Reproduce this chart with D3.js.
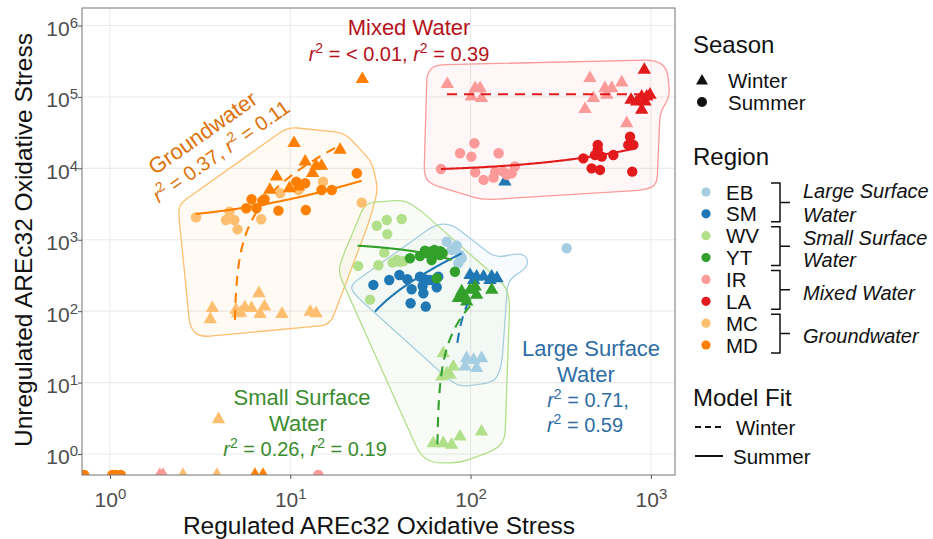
<!DOCTYPE html>
<html>
<head>
<meta charset="utf-8">
<title>AREc32 oxidative stress</title>
<style>
    body { margin: 0; background: #fff; }
    text { font-family: "Liberation Sans", Arial, sans-serif; }
</style>
</head>
<body>
<svg width="933" height="539"></svg>
<script src="https://d3js.org/d3.v7.min.js"></script>
<script>

    // [regulated, unregulated]; 0 = not detected, sits on the bottom edge
    var ebSummer = [[73.7, 940], [83.7, 830], [78.5, 720], [87.4, 612], [85.5, 469], [89.3, 551], [341, 760]];
    var ebWinter = [[95.1, 21.9], [104, 20.7], [115, 21.9], [93.1, 16.7], [108, 15.9]];
    var smSummer = [[28.9, 233], [35.4, 273], [40.3, 321], [44.6, 280], [47.1, 203], [54.7, 178], [55.8, 280], [59.5, 273],
        [64.9, 216], [66.2, 304], [54.2, 225], [46.5, 129], [56.4, 116], [52.4, 304]];
    var smWinter = [[99.3, 321], [108, 304], [118, 304], [131, 304], [140, 289], [104, 273], [128, 273], [155, 6510]];
    var wvSummer = [[30.2, 1570], [34.3, 1890], [41.5, 1950], [34.5, 1200], [33.2, 660], [23.8, 430], [30.8, 440],
        [37.0, 480], [39.0, 520], [40.6, 490], [42.4, 505], [27.7, 145]];
    var wvWinter = [[70.6, 25.7], [80.2, 16.7], [73.7, 13.5], [69.2, 12.1], [76.9, 12.8], [62.1, 1.41], [70.6, 1.41],
        [78.5, 1.34], [87.4, 1.75], [115, 2.05]];
    var ytSummer = [[46.1, 551], [52.4, 593], [55.8, 703], [59.5, 681], [62.1, 612], [64.9, 681], [67.6, 612], [60.8, 521],
        [81.9, 357], [64.9, 289], [57, 650], [63, 720], [68, 690], [70, 650]];
    var ytWinter = [[89.3, 188], [93.1, 160], [99.3, 198], [106, 220], [108, 169], [95.1, 136], [131, 198], [85.5, 152]];
    var irSummer = [[68.5, 9810], [87.4, 16300], [101, 14600], [105, 22500], [106, 8810], [118, 6890], [137, 8990],
        [143, 16300], [134, 7410], [152, 8990], [169, 8540], [176, 10600], [159, 8090], [14.3, 0]];
    var irWinter = [[74.3, 150700], [101, 101000], [113, 132000], [115, 95900], [459, 183000], [431, 67300], [480, 95900],
        [556, 132000], [569, 107000], [606, 132000], [689, 159000], [734, 42800], [106, 132000], [1.89, 0], [1.97, 0]];
    var laSummer = [[422, 13800], [469, 10000], [490, 15400], [507, 21300], [522, 9500], [534, 14600], [619, 15400],
        [749, 21300], [766, 27800], [799, 21300], [788, 8990], [507, 18100]];
    var laWinter = [[919, 239000], [776, 90800], [889, 101000], [948, 101000], [988, 107000], [889, 65800], [834, 85900], [927, 85900]];
    var mcSummer = [[3.0, 2070], [4.6, 2480], [4.4, 1890], [4.9, 1890], [5.1, 1400], [6.9, 1940], [8.8, 4480], [11.1, 4980],
        [15.2, 6510], [24.9, 3310]];
    var mcWinter = [[3.7, 110], [3.6, 77], [5.0, 104], [5.3, 95], [5.6, 113], [6.1, 110], [6.7, 178], [7.2, 116], [6.8, 91],
        [9.0, 91], [12.9, 98], [13.9, 93], [5.1, 93], [4.0, 3.06], [2.54, 0], [3.92, 0]];
    var mdSummer = [[5.7, 2760], [6.1, 3690], [6.5, 2760], [7.0, 3490], [7.2, 3690], [8.6, 2560], [10.8, 6510], [12.1, 6180],
        [12.2, 2610], [14.9, 4980], [17.0, 4980], [23.4, 8540], [0.72, 0], [1.03, 0], [1.08, 0], [1.15, 0]];
    var mdWinter = [[10.5, 22500], [18.9, 18100], [12.1, 12400], [13.9, 10800], [14.9, 10800], [13.3, 8540], [8.4, 7650],
        [7.7, 4980], [11.1, 5540], [9.9, 5260], [25.1, 177000], [6.37, 0], [7.06, 0]];

    var regions = ["EB", "SM", "WV", "YT", "IR", "LA", "MC", "MD"];
    var regionColors = ["#A6CEE3", "#1F78B4", "#B2DF8A", "#33A02C", "#FB9A99", "#E31A1C", "#FDBF6F", "#FF7F00"];
    var summerSets = [ebSummer, smSummer, wvSummer, ytSummer, irSummer, laSummer, mcSummer, mdSummer];
    var winterSets = [ebWinter, smWinter, wvWinter, ytWinter, irWinter, laWinter, mcWinter, mdWinter];

    // water groups: hull outlines and linear model fits (y = a + b*x)
    var groups = ["Groundwater", "Large Surface Water", "Mixed Water", "Small Surface Water"];
    var groupLight = ["#FDBF6F", "#A6CEE3", "#FB9A99", "#B2DF8A"];
    var groupDark = ["#FF7F00", "#1F78B4", "#E31A1C", "#33A02C"];
    var hullGround = [[2.38, 3070], [9.71, 38000], [20.1, 31300], [28.4, 12300], [30.7, 4980], [27.0, 1610], [16.6, 64],
        [3.16, 43.5], [2.78, 58.2]];
    var hullLarge = [[21.4, 230], [64.3, 1660], [78.8, 1660], [137, 556], [188, 653], [208, 556], [205, 403], [161, 273],
        [149, 17.6], [137, 10.2], [87.4, 8.68], [74, 11.6], [22.8, 169]];
    var hullMixed = [[57.3, 224000], [64.3, 281000], [1054, 330000], [1228, 255000], [1276, 100000], [1123, 61700],
        [1081, 5860], [927, 4980], [117, 3610], [59.5, 6050], [55.2, 8090]];
    var hullSmall = [[19.4, 556], [26.0, 3280], [43.3, 3610], [52.4, 2610], [155, 233], [165, 144], [155, 1.57], [137, 1.14],
        [87.4, 0.75], [61.8, 0.75], [52.4, 0.97], [18.4, 354]];
    var hulls = [hullGround, hullLarge, hullMixed, hullSmall];

    // [group index, winter?, intercept, slope, x from, x to]
    var fits = [
        [0, false, 1691, 202, 3.0, 24.9],
        [0, true, -7349, 1506, 4.93, 17.7],
        [1, false, -172, 9.17, 29.5, 89.3],
        [1, true, -623, 7.8, 84.5, 96],
        [2, false, 8964, 12.2, 68.5, 800],
        [2, true, 109000, 0, 74, 988],
        [3, false, 958.7, -5.58, 23.6, 78.4],
        [3, true, -224.6, 3.45, 65.5, 99.3]
    ];

    var xTicks = [1, 10, 100, 1000];
    var yTicks = [1, 10, 100, 1000, 10000, 100000, 1000000];

    var svg = d3.select("svg"),
        pLeft = 82, pRight = 675, pTop = 8, pBottom = 475;

    var x = d3.scaleLog().domain([0.7, 1360]).range([pLeft, pRight]);
    var y = d3.scaleLog().domain([0.508, 1.76e6]).range([pBottom, pTop]);
    var yPos = function (v) { return v > 0 ? y(v) : pBottom; };

    svg.append("clipPath").attr("id", "panel")
        .append("rect").attr("x", pLeft).attr("y", pTop).attr("width", pRight - pLeft).attr("height", pBottom - pTop);

    // grid
    svg.append("g").selectAll("line").data(xTicks).enter().append("line")
        .attr("x1", function (d) { return x(d); }).attr("x2", function (d) { return x(d); })
        .attr("y1", pTop).attr("y2", pBottom)
        .attr("stroke", "#EBEBEB").attr("stroke-width", 1.1);
    svg.append("g").selectAll("line").data(yTicks).enter().append("line")
        .attr("y1", function (d) { return y(d); }).attr("y2", function (d) { return y(d); })
        .attr("x1", pLeft).attr("x2", pRight)
        .attr("stroke", "#EBEBEB").attr("stroke-width", 1.1);

    var plot = svg.append("g").attr("clip-path", "url(#panel)");

    // rounded hull outline
    function roundedHull(pts, r) {
        var p = d3.path(), n = pts.length;
        for (var i = 0; i < n; i++) {
            var a = pts[(i - 1 + n) % n], b = pts[i], c = pts[(i + 1) % n];
            var l1 = Math.hypot(a[0] - b[0], a[1] - b[1]), l2 = Math.hypot(c[0] - b[0], c[1] - b[1]);
            var k1 = Math.min(r, l1 / 2) / l1, k2 = Math.min(r, l2 / 2) / l2;
            var s = [b[0] + (a[0] - b[0]) * k1, b[1] + (a[1] - b[1]) * k1];
            var e = [b[0] + (c[0] - b[0]) * k2, b[1] + (c[1] - b[1]) * k2];
            if (i === 0) p.moveTo(s[0], s[1]); else p.lineTo(s[0], s[1]);
            p.quadraticCurveTo(b[0], b[1], e[0], e[1]);
        }
        p.closePath();
        return p.toString();
    }

    plot.append("g").selectAll("path").data(hulls).enter().append("path")
        .attr("d", function (h) { return roundedHull(h.map(function (d) { return [x(d[0]), y(d[1])]; }), 10); })
        .attr("fill", function (h, i) { return groupLight[i]; })
        .attr("fill-opacity", 0.08)
        .attr("stroke", function (h, i) { return groupLight[i]; })
        .attr("stroke-width", 1.3);

    // points
    var points = [];
    regions.forEach(function (r, i) {
        summerSets[i].forEach(function (d) { points.push({ region: i, winter: false, x: d[0], y: d[1] }); });
        winterSets[i].forEach(function (d) { points.push({ region: i, winter: true, x: d[0], y: d[1] }); });
    });

    var tri = d3.symbol().type(d3.symbolTriangle).size(78);
    var dot = d3.symbol().type(d3.symbolCircle).size(85);
    plot.append("g").selectAll("path").data(points).enter().append("path")
        .attr("transform", function (d) { return "translate(" + x(d.x) + "," + yPos(d.y) + ")"; })
        .attr("d", function (d) { return d.winter ? tri() : dot(); })
        .attr("fill", function (d) { return regionColors[d.region]; });

    // model fits
    var fitLine = d3.line()
        .x(function (d) { return x(d[0]); })
        .y(function (d) { return y(d[1]); });

    plot.append("g").selectAll("path").data(fits).enter().append("path")
        .attr("d", function (f) {
            var lx = d3.scaleLog().domain([f[4], f[5]]);
            var pts = d3.range(0, 1.0001, 1 / 120).map(function (t) {
                var xv = lx.invert(t);
                return [xv, f[2] + f[3] * xv];
            });
            return fitLine(pts);
        })
        .attr("fill", "none")
        .attr("stroke", function (f) { return groupDark[f[0]]; })
        .attr("stroke-width", 2.1)
        .attr("stroke-dasharray", function (f) { return f[1] ? "10,7" : null; });

    // panel border
    svg.append("rect").attr("x", pLeft).attr("y", pTop).attr("width", pRight - pLeft).attr("height", pBottom - pTop)
        .attr("fill", "none").attr("stroke", "#7F7F7F").attr("stroke-width", 1.1);

    // axes
    function powLabel(sel, dy) {
        sel.each(function (d) {
            var t = d3.select(this).text(null).attr("dy", dy);
            t.append("tspan").text("10");
            t.append("tspan").attr("dy", -8).attr("font-size", "15px").text(Math.round(Math.log10(d)));
        });
    }

    var gx = svg.append("g").attr("transform", "translate(0," + pBottom + ")")
        .call(d3.axisBottom(x).tickValues(xTicks).tickSize(4).tickSizeOuter(0));
    gx.select(".domain").remove();
    gx.selectAll(".tick line").attr("stroke", "#555");
    gx.selectAll(".tick text").attr("font-size", "21px").attr("fill", "#4D4D4D")
        .call(powLabel, "1.2em");

    var gy = svg.append("g").attr("transform", "translate(" + pLeft + ",0)")
        .call(d3.axisLeft(y).tickValues(yTicks).tickSize(4).tickPadding(0).tickSizeOuter(0));
    gy.select(".domain").remove();
    gy.selectAll(".tick line").attr("stroke", "#555");
    gy.selectAll(".tick text").attr("font-size", "21px").attr("fill", "#4D4D4D")
        .call(powLabel, "10px");

    svg.append("text")
        .attr("x", 379).attr("y", 534)
        .attr("text-anchor", "middle").attr("font-size", "24.5px").attr("fill", "#111")
        .text("Regulated AREc32 Oxidative Stress");
    svg.append("text")
        .attr("transform", "translate(32,240) rotate(-90)")
        .attr("text-anchor", "middle").attr("font-size", "24.5px").attr("fill", "#111")
        .text("Unregulated AREc32 Oxidative Stress");

    // annotations: parts "r2" become italic r with superscript 2
    function richText(t, parts) {
        var shift = 0;
        parts.forEach(function (p) {
            if (p === "r2") {
                t.append("tspan").attr("font-style", "italic").attr("dy", shift || null).text("r");
                t.append("tspan").attr("dy", -8).attr("font-size", "0.7em").text("2");
                shift = 8;
            } else {
                t.append("tspan").attr("dy", shift || null).text(p);
                shift = 0;
            }
        });
    }

    function note(px, py, angle, color, size, parts) {
        var t = svg.append("text")
            .attr("transform", "translate(" + px + "," + py + ") rotate(" + angle + ")")
            .attr("text-anchor", "middle").attr("font-size", size).attr("fill", color);
        richText(t, parts);
    }

    var noteColors = ["#DD7209", "#2E6DA4", "#B5121B", "#3B8C2F"];
    note(409, 35, 0, noteColors[2], "22px", [groups[2]]);
    note(399, 61, 0, noteColors[2], "20px", ["r2", " = < 0.01, ", "r2", " = 0.39"]);
    note(207, 139, -35, noteColors[0], "22px", [groups[0]]);
    note(225, 157, -35, noteColors[0], "20px", ["r2", " = 0.37, ", "r2", " = 0.11"]);
    note(302, 405, 0, noteColors[3], "22px", ["Small Surface"]);
    note(298, 431, 0, noteColors[3], "22px", ["Water"]);
    note(305, 456, 0, noteColors[3], "20px", ["r2", " = 0.26, ", "r2", " = 0.19"]);
    note(591, 356, 0, noteColors[1], "22px", ["Large Surface"]);
    note(586, 382, 0, noteColors[1], "22px", ["Water"]);
    note(588, 407, 0, noteColors[1], "20px", ["r2", " = 0.71,"]);
    note(585, 432, 0, noteColors[1], "20px", ["r2", " = 0.59"]);

    // legend
    var lg = svg.append("g").attr("font-size", "20.5px").attr("fill", "#111");
    lg.append("text").attr("x", 693).attr("y", 53).attr("font-size", "24px").text("Season");
    lg.append("path").attr("transform", "translate(702,81)").attr("d", d3.symbol().type(d3.symbolTriangle).size(62)());
    lg.append("circle").attr("cx", 702).attr("cy", 102).attr("r", 5);
    lg.append("text").attr("x", 728).attr("y", 88).text("Winter");
    lg.append("text").attr("x", 728).attr("y", 110).text("Summer");

    lg.append("text").attr("x", 693).attr("y", 165).attr("font-size", "24px").text("Region");
    var regionY = d3.scalePoint().domain(regions).range([192, 345]);
    lg.selectAll(".reg").data(regions).enter().append("circle")
        .attr("cx", 706).attr("cy", function (d) { return regionY(d); }).attr("r", 4.6)
        .attr("fill", function (d, i) { return regionColors[i]; });
    lg.selectAll(".regt").data(regions).enter().append("text")
        .attr("x", 726).attr("y", function (d) { return regionY(d) + 7.5; })
        .text(function (d) { return d; });

    var bracketGroups = [["Large Surface", "Water"], ["Small Surface", "Water"], ["Mixed Water"], ["Groundwater"]];
    var bracketBaselines = [[198, 222], [245, 267], [300], [343]];
    bracketGroups.forEach(function (lab, k) {
        var y0 = regionY(regions[2 * k]) - 9, y1 = regionY(regions[2 * k + 1]) + 8, ym = (y0 + y1) / 2;
        lg.append("path")
            .attr("d", "M771," + y0 + "H780V" + y1 + "H771M780," + ym + "H790")
            .attr("fill", "none").attr("stroke", "#111").attr("stroke-width", 1.5);
        lab.forEach(function (s, j) {
            lg.append("text").attr("x", 803).attr("y", bracketBaselines[k][j])
                .attr("font-size", "20px").attr("font-style", "italic").text(s);
        });
    });

    lg.append("text").attr("x", 693).attr("y", 406).attr("font-size", "24px").text("Model Fit");
    lg.append("line").attr("x1", 695).attr("x2", 722).attr("y1", 427).attr("y2", 427)
        .attr("stroke", "#111").attr("stroke-width", 2).attr("stroke-dasharray", "6,4");
    lg.append("line").attr("x1", 695).attr("x2", 723).attr("y1", 456).attr("y2", 456)
        .attr("stroke", "#111").attr("stroke-width", 2);
    lg.append("text").attr("x", 736).attr("y", 435).text("Winter");
    lg.append("text").attr("x", 733).attr("y", 464).text("Summer");

</script>
</body>
</html>
